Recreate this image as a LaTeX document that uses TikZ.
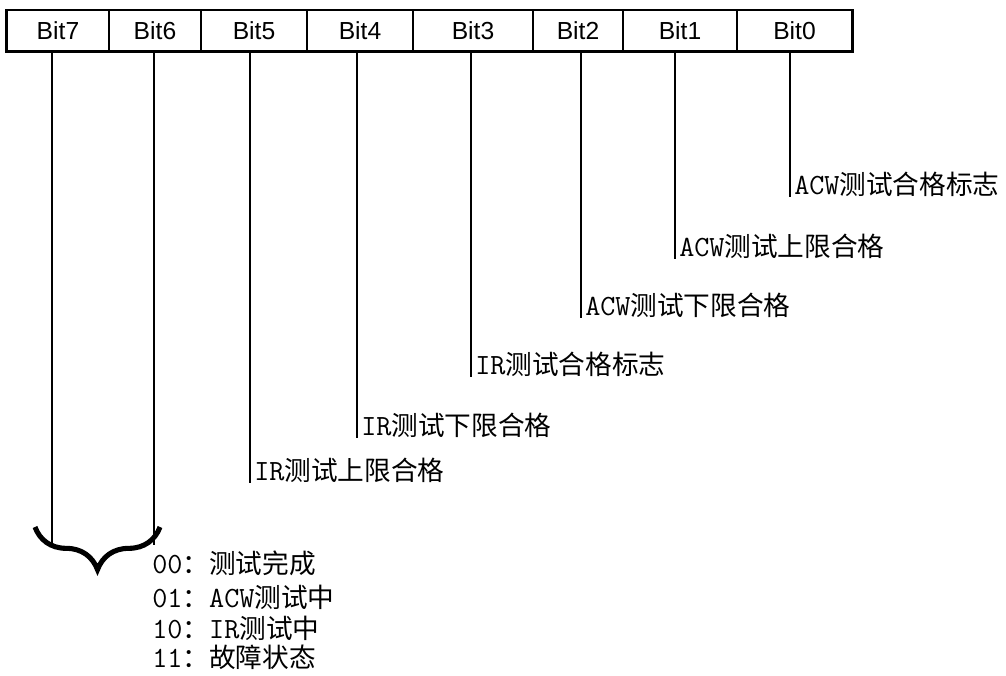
\documentclass[tikz,border=0pt]{standalone}
\usepackage{fontspec}
\setmainfont{Liberation Sans}
\newfontfamily\cjkfont{Noto Sans CJK SC}
\usetikzlibrary{decorations.pathreplacing}
\newcommand{\codetext}[1]{{\ttfamily\fontsize{22}{24}\selectfont #1}}
\newcommand{\mixtext}[2]{\codetext{#1}{\cjkfont #2}}

\begin{document}
\begin{tikzpicture}[x=0.75pt,y=-0.75pt,
    cell/.style={draw,line width=0.8pt,inner sep=0pt,minimum height=30.75pt,
      font=\fontsize{18.5}{20}\selectfont},
    flag/.style={anchor=south west,inner xsep=3pt,inner ysep=0pt,
      font=\fontsize{20}{22}\selectfont},
    state/.style={anchor=west,inner sep=0pt,font=\fontsize{20}{22}\selectfont},
    lead/.style={line width=1.1pt}]
  \useasboundingbox (0,0) rectangle (1006,675);
  % register cells
  \foreach \n/\lo/\hi in {7/7/109,6/109/201,5/201/307,4/307/413,
                          3/413/533,2/533/623,1/623/737,0/737/852}
    \node[cell,minimum width={(\hi-\lo)*0.75pt}] (b\n) at ({(\lo+\hi)/2},30.5) {Bit\n};
  \draw[line width=2.4pt] (b7.north west) -- (b7.south west) -- (b0.south east) -- (b0.north east);
  % single bit flags
  \node[flag] (f0) at (790,197) {\mixtext{ACW}{测试合格标志}};
  \node[flag] (f1) at (675,259) {\mixtext{ACW}{测试上限合格}};
  \node[flag] (f2) at (581,318) {\mixtext{ACW}{测试下限合格}};
  \node[flag] (f3) at (471,377) {\mixtext{IR}{测试合格标志}};
  \node[flag] (f4) at (357,438) {\mixtext{IR}{测试下限合格}};
  \node[flag] (f5) at (250,483) {\mixtext{IR}{测试上限合格}};
  \foreach \n in {0,...,5}
    \draw[lead] (f\n.south west |- b\n.south) -- (f\n.south west);
  % two bit state field
  \coordinate (k7) at (52,545);
  \coordinate (k6) at (154,545);
  \draw[lead] (k7 |- b7.south) -- (k7);
  \draw[lead] (k6 |- b6.south) -- (k6);
  \draw[line width=3.8pt,decorate,decoration={brace,amplitude=32pt}] (160,527) -- (35,527);
  \node[state] (s0) at (152,563) {\codetext{00}{\cjkfont ：测试完成}};
  \node[state] (s1) at (152,597) {\codetext{01}{\cjkfont ：}\mixtext{ACW}{测试中}};
  \node[state] (s2) at (152,628) {\codetext{10}{\cjkfont ：}\mixtext{IR}{测试中}};
  \node[state] (s3) at (152,657) {\codetext{11}{\cjkfont ：故障状态}};
\end{tikzpicture}
\end{document}
